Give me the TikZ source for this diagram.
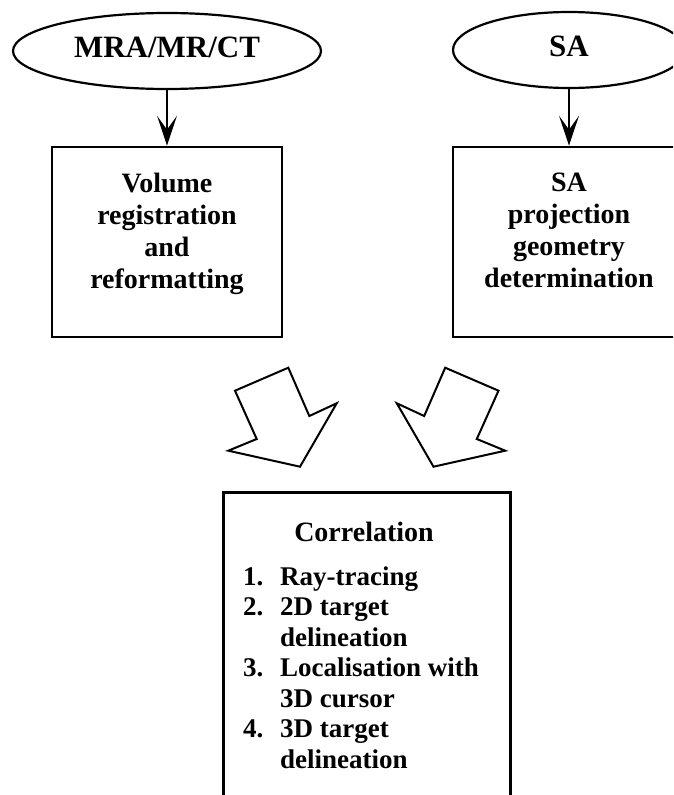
\documentclass[tikz,border=0pt]{standalone}
\usepackage{fontspec}
\setmainfont{Liberation Serif}
\usetikzlibrary{arrows.meta,shapes.geometric}
\tikzset{
  srcnode/.style={draw, ellipse, line width=2.2pt, inner sep=0pt, minimum height=76pt,
    text height=22pt, text depth=10pt,
    font=\fontsize{31}{34}\selectfont\bfseries},
  procbox/.style={draw, rectangle, line width=2.6pt, inner sep=0pt},
  boxtext/.style={align=center, inner sep=0pt, font=\fontsize{28}{32}\selectfont\bfseries},
  conn/.style={line width=1.7pt, -{Stealth[length=30pt,width=20pt,inset=14pt]}},
  bigarrow/.style={draw, line width=2pt, line join=miter, fill=white}
}
\begin{document}
\begin{tikzpicture}[x=1pt,y=-1pt]
\useasboundingbox (0,0) rectangle (673,795);
\clip (0,0) rectangle (673,795);
% sources
\node[srcnode, minimum width=308pt] (src1) at (167,51) {MRA/MR/CT};
\node[srcnode, minimum width=232pt] (src2) at (569,50) {SA};
% process boxes
\node[procbox, minimum width=230pt, minimum height=190pt] (box1) at (167,242) {};
\node[procbox, minimum width=232pt, minimum height=190pt] (box2) at (569,242) {};
\node[boxtext] (t1) at (167,233.5) {Volume\\registration\\and\\reformatting};
\node[boxtext] (t2) at (569,230.5) {SA\\projection\\geometry\\determination};
% connectors
\draw[conn] (src1.south) -- (box1.north);
\draw[conn] (src2.south) -- (box2.north);
% big block arrows
\draw[bigarrow] (288.3,367.7) -- (235,390.7) -- (256.7,439) -- (228.3,450.7) -- (300,466.7) -- (336.7,403.3) -- (309.3,416) -- cycle;
\draw[bigarrow] (445.2,367.7) -- (498.5,390.7) -- (476.8,439) -- (505.2,450.7) -- (433.5,466.7) -- (396.8,403.3) -- (424.2,416) -- cycle;
% correlation box
\node[procbox, anchor=north, minimum width=287pt, minimum height=340pt] (corr) at (366.75,491) {};
\node[anchor=base, inner sep=0pt, font=\fontsize{28}{30}\selectfont\bfseries] (corrtitle) at (364,541) {Correlation};
\node[anchor=base west, inner sep=0pt, font=\fontsize{27}{30.5}\selectfont\bfseries] (corrlist) at (243,585)
{\renewcommand{\arraystretch}{1}%
\begin{tabular}[t]{@{}p{37pt}@{}l@{}}
1. & Ray-tracing\\
2. & 2D target\\
   & delineation\\
3. & Localisation with\\
   & 3D cursor\\
4. & 3D target\\
   & delineation
\end{tabular}};
\end{tikzpicture}
\end{document}
